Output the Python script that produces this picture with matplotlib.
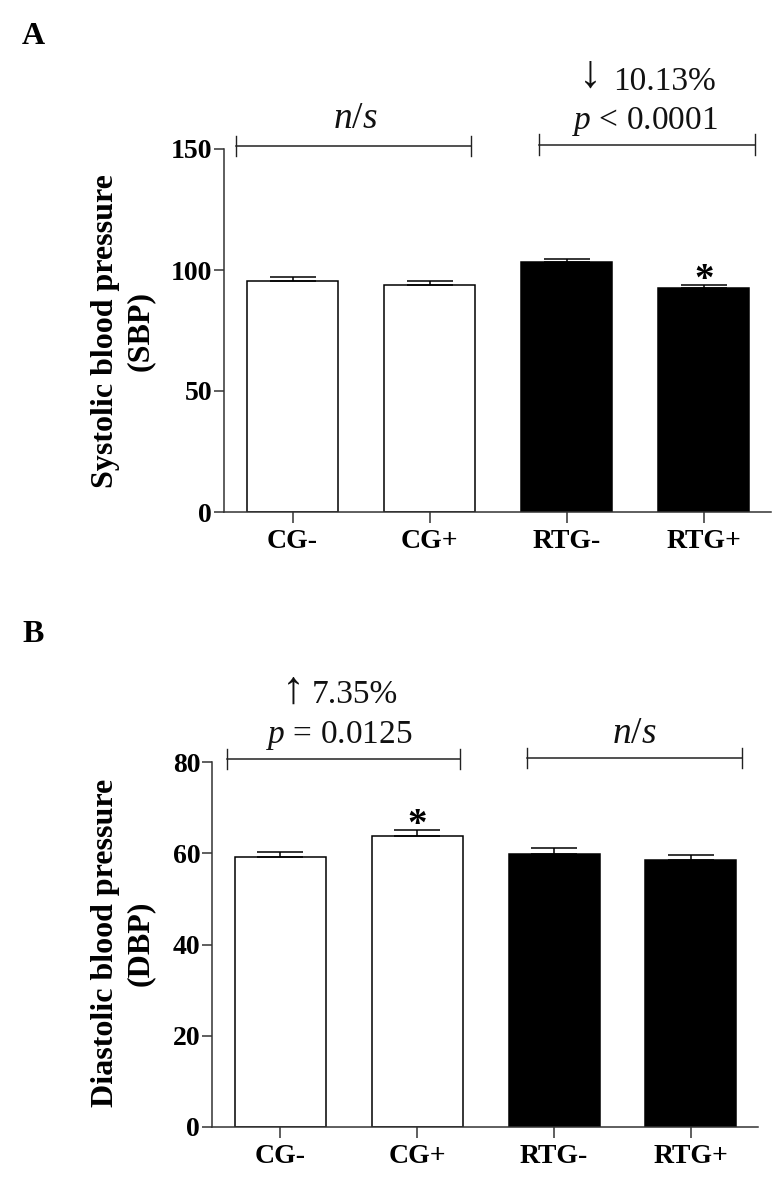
import matplotlib
matplotlib.use('Agg')
import matplotlib.pyplot as plt
import numpy as np

plt.rcParams['font.family'] = ['Liberation Serif', 'DejaVu Serif']
plt.rcParams['mathtext.fontset'] = 'custom'
plt.rcParams['mathtext.it'] = 'Liberation Serif:italic'
plt.rcParams['mathtext.rm'] = 'Liberation Serif'

W, H = 777, 1177

groups = ['CG-', 'CG+', 'RTG-', 'RTG+']
bar_colors = ['white', 'white', 'black', 'black']

sbp = [95.5, 93.6, 103.2, 92.5]
sbp_err = [1.6, 1.9, 1.4, 1.4]
sbp_ticks = [0, 50, 100, 150]

dbp = [59.2, 63.8, 59.8, 58.5]
dbp_err = [1.1, 1.4, 1.4, 1.1]
dbp_ticks = [0, 20, 40, 60, 80]

fig = plt.figure(figsize=(W/100, H/100), dpi=100)


def note(px, py, txt, size=24, **kw):
    # text placed by pixel position in the figure
    fig.text(px/W, 1-py/H, txt, ha='center', va='center', fontsize=size, color='#111111', **kw)


def panel(left, right, top, bottom, vals, errs, ticks, ylabel, label_x, label_y):
    ax = fig.add_axes([left/W, 1-bottom/H, (right-left)/W, (bottom-top)/H])
    x = np.arange(len(vals))
    ax.bar(x, vals, width=0.665, color=bar_colors, edgecolor='black', lw=1.1)
    ax.errorbar(x, vals, yerr=[np.zeros(len(errs)), errs], fmt='none', ecolor='black',
                elinewidth=1.1, capsize=16.5, capthick=1.1)
    ax.set_xlim(-0.5, 3.49)
    ax.set_ylim(0, ticks[-1])
    ax.set_xticks(x)
    ax.set_xticklabels(groups, fontsize=20, fontweight='bold')
    ax.set_yticks(ticks)
    ax.set_yticklabels([str(t) for t in ticks], fontsize=20, fontweight='bold')
    ax.tick_params(axis='y', length=7.5, width=1.1, color='#333333', pad=1)
    ax.tick_params(axis='x', length=8, width=1.1, color='#333333', pad=4.5)
    for s in ['top', 'right']:
        ax.spines[s].set_visible(False)
    for s in ['left', 'bottom']:
        ax.spines[s].set_linewidth(1.1)
        ax.spines[s].set_color('#333333')
    fig.text(label_x/W, 1-label_y/H, ylabel, rotation=90, ha='center', va='center',
             fontsize=23, fontweight='bold', linespacing=1.27, multialignment='center')
    return ax


def bracket(ax, x0, x1, y):
    h = ax.get_ylim()[1]
    ax.plot([x0, x1], [y, y], color='#222222', lw=1.1, clip_on=False)
    for xx in [x0, x1]:
        ax.plot([xx, xx], [y-0.028*h, y+0.028*h], color='#222222', lw=1.0, clip_on=False)


ax1 = panel(224, 771, 149, 512, sbp, sbp_err, sbp_ticks,
            'Systolic blood pressure\n(SBP)', 123, 331)
bracket(ax1, -0.41, 1.30, 151.3)
bracket(ax1, 1.80, 3.37, 151.8)
note(355, 119, r'$\mathit{n/s}$', 27)
note(590, 76, '\u2193', 33)
note(665, 82, '10.13%')
note(645, 121, r'$\mathit{p}$ < 0.0001')
ax1.text(3, 95.6, '*', ha='center', va='center', fontsize=28, fontweight='bold')

ax2 = panel(212, 758, 762, 1127, dbp, dbp_err, dbp_ticks,
            'Diastolic blood pressure\n(DBP)', 123, 943)
bracket(ax2, -0.39, 1.31, 80.7)
bracket(ax2, 1.80, 3.375, 80.9)
note(293, 692, '\u2191', 33)
note(355, 695, '7.35%')
note(339, 736, r'$\mathit{p}$ = 0.0125')
note(634, 734, r'$\mathit{n/s}$', 27)
ax2.text(1, 66.1, '*', ha='center', va='center', fontsize=28, fontweight='bold')

fig.text(33/W, 1-37/H, 'A', ha='center', va='center', fontsize=23, fontweight='bold')
fig.text(33/W, 1-634/H, 'B', ha='center', va='center', fontsize=23, fontweight='bold')

fig.savefig('out.png', dpi=100)
